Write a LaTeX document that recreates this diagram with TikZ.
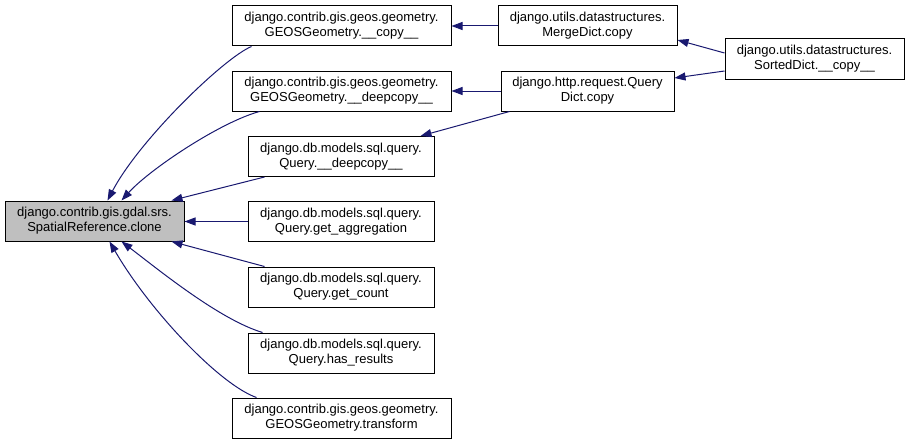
\documentclass[tikz,border=0pt]{standalone}
\usepackage{fontspec}
\setmainfont{Liberation Sans}
\usetikzlibrary{arrows.meta,calc}
\definecolor{edgeblue}{HTML}{191970}
\definecolor{mainfill}{HTML}{BFBFBF}
\tikzset{
  fn/.style={draw=black,line width=1pt,fill=white,inner sep=0pt,align=center,
    minimum height=40pt,font=\fontsize{13}{15}\selectfont},
  wide/.style={fn,minimum width=219pt},
  mid/.style={fn,minimum width=186pt},
  call/.style={draw=edgeblue,line width=1pt,-{Triangle[length=11pt,width=8pt]}}
}
\begin{document}
\begin{tikzpicture}[x=1pt,y=-1pt]
\useasboundingbox (0,0) rectangle (909,444);
\node[fn,minimum width=179pt,fill=mainfill] (main) at (94.5,221) {django.contrib.gis.gdal.srs.\\SpatialReference.clone};
\node[wide] (gcopy) at (341.5,26) {django.contrib.gis.geos.geometry.\\GEOSGeometry.\_\_copy\_\_};
\node[wide] (gdeep) at (341.5,91) {django.contrib.gis.geos.geometry.\\GEOSGeometry.\_\_deepcopy\_\_};
\node[mid] (qdeep) at (341,156.5) {django.db.models.sql.query.\\Query.\_\_deepcopy\_\_};
\node[mid] (qagg) at (341,221.5) {django.db.models.sql.query.\\Query.get\_aggregation};
\node[mid] (qcount) at (341,287) {django.db.models.sql.query.\\Query.get\_count};
\node[mid] (qhas) at (341,353) {django.db.models.sql.query.\\Query.has\_results};
\node[wide] (gtrans) at (341.5,418) {django.contrib.gis.geos.geometry.\\GEOSGeometry.transform};
\node[fn,minimum width=179pt] (merge) at (587.5,26) {django.utils.datastructures.\\MergeDict.copy};
\node[fn,minimum width=173pt] (qdict) at (587.5,91) {django.http.request.Query\\Dict.copy};
\node[fn,minimum width=179pt] (sorted) at (814.5,59) {django.utils.datastructures.\\SortedDict.\_\_copy\_\_};

\draw[call] ($(gcopy.south west)+(20,0)$) .. controls +(-27,11) and +(32,-61) .. ($(main.north west)+(103,0)$);
\draw[call] ($(gdeep.south west)+(28,0)$) .. controls +(-40,11) and +(28,-31) .. ($(main.north west)+(117,0)$);
\draw[call] ($(qdeep.south west)+(17,0)$) -- ($(main.north west)+(167,0)$);
\draw[call] (qagg.west) -- ($(main.east)+(0,0.5)$);
\draw[call] ($(qcount.north west)+(17,0)$) -- ($(main.south west)+(167,0)$);
\draw[call] ($(qhas.north west)+(15,0)$) .. controls +(-43,-13) and +(38,29) .. ($(main.south west)+(117,0)$);
\draw[call] ($(gtrans.north west)+(25,0)$) .. controls +(-37,-13) and +(40,69) .. ($(main.south west)+(105,0)$);

\draw[call] (merge.west) -- (gcopy.east);
\draw[call] ($(qdict.west)+(0,0)$) -- (gdeep.east);
\draw[call] ($(qdict.south west)+(9,0)$) -- ($(qdeep.north east)+(-14,0)$);
\draw[call] ($(sorted.west)+(0,-6)$) -- ($(merge.east)+(0,14)$);
\draw[call] ($(sorted.west)+(0,12)$) -- ($(qdict.east)+(0,-13)$);
\end{tikzpicture}
\end{document}
